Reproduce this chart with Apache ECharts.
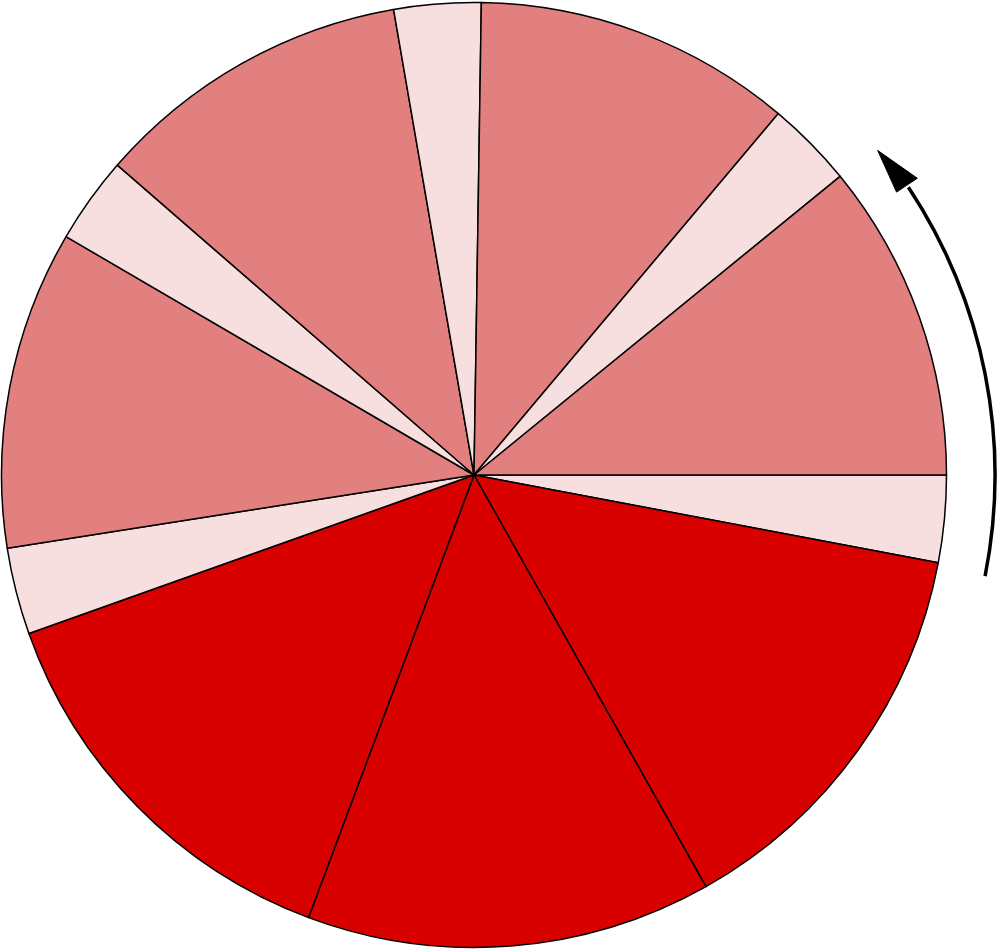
<!DOCTYPE html>
<html>
<head>
<meta charset="utf-8">
<style>html,body{margin:0;padding:0;background:#fff;}#c{width:1002px;height:950px;}</style>
<script src="https://cdn.jsdelivr.net/npm/echarts@6/dist/echarts.min.js"></script>
</head>
<body>
<div id="c"></div>
<script>
// Slice order: clockwise starting from east (3 o'clock)
var categories = ['A1','B1','B2','B3','A2','C1','A3','C2','A4','C3','A5','C4'];
var values = [3, 14, 14, 14, 3, 11, 3, 11, 3, 11, 3, 11];
var groups = ['light','red','red','red','light','pink','light','pink','light','pink','light','pink'];
var groupColors = {light:'#F7DFE0', pink:'#E28080', red:'#D90000'};

var CX = 474, CY = 475, R = 472.5;
var chart = echarts.init(document.getElementById('c'), null, {renderer:'canvas'});

var data = categories.map(function(n,i){
  return {name:n, value:values[i], itemStyle:{color:groupColors[groups[i]]}};
});

// Arrow annotation (concentric arc with arrowhead)
var AR = 521;
var a0 = 11.2*Math.PI/180, a1 = -33.8*Math.PI/180, aTip = -38.8*Math.PI/180;
var tip = [CX + 518*Math.cos(aTip), CY + 518*Math.sin(aTip)];
var base = [CX + AR*Math.cos(a1), CY + AR*Math.sin(a1)];
var nx = Math.cos(a1), ny = Math.sin(a1);
var hw = 12.5;
var p1 = [base[0] + nx*hw, base[1] + ny*hw];
var p2 = [base[0] - nx*hw, base[1] - ny*hw];

chart.setOption({
  animation:false,
  backgroundColor:'#ffffff',
  series:[{
    type:'pie',
    center:[CX, CY],
    radius:[0, R],
    startAngle:0,
    clockwise:true,
    avoidLabelOverlap:false,
    label:{show:false},
    labelLine:{show:false},
    emphasis:{disabled:true},
    itemStyle:{borderColor:'#000', borderWidth:1.5},
    data:data
  }],
  graphic:[
    {type:'arc', shape:{cx:CX, cy:CY, r:AR, startAngle:a1+0.005, endAngle:a0, clockwise:true},
     style:{stroke:'#000', lineWidth:3.5, fill:null}},
    {type:'polygon', shape:{points:[tip, p1, p2]}, style:{fill:'#000', stroke:'#000', lineWidth:1}}
  ]
});
</script>
</body>
</html>
